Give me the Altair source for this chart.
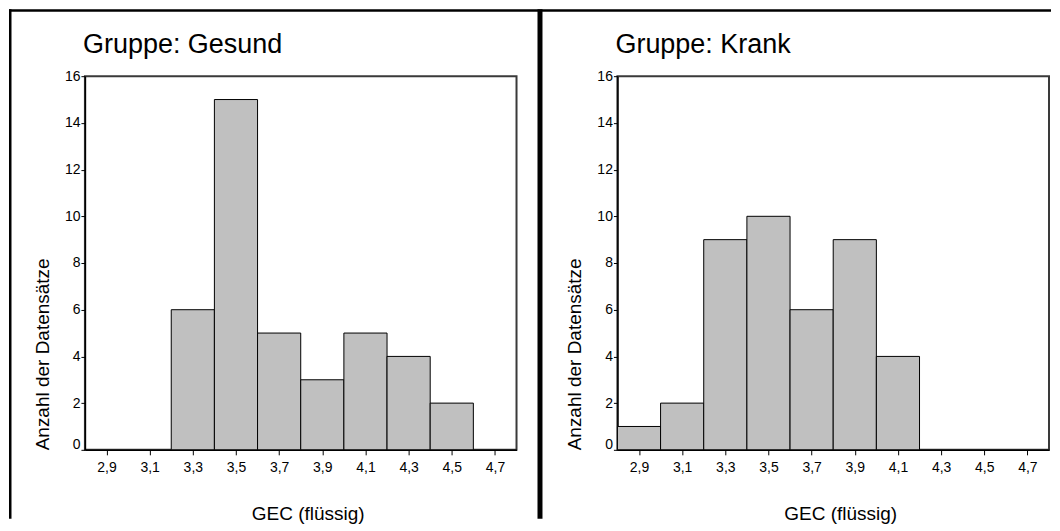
import altair as alt
import pandas as pd

# ---- data ----
bin_start = [2.8, 3.0, 3.2, 3.4, 3.6, 3.8, 4.0, 4.2, 4.4, 4.6]
bin_end = [3.0, 3.2, 3.4, 3.6, 3.8, 4.0, 4.2, 4.4, 4.6, 4.8]
gesund_counts = [0, 0, 6, 15, 5, 3, 5, 4, 2, 0]
krank_counts = [1, 2, 9, 10, 6, 9, 4, 0, 0, 0]
x_ticks = [2.9, 3.1, 3.3, 3.5, 3.7, 3.9, 4.1, 4.3, 4.5, 4.7]
y_ticks = [0, 2, 4, 6, 8, 10, 12, 14, 16]
groups = ["Gesund", "Krank"]

FONT = "Liberation Sans"
W, H = 432, 374


def panel(counts, group, left_border):
    df = pd.DataFrame({"start": bin_start, "end": bin_end, "count": counts})
    x = alt.X(
        "start:Q",
        scale=alt.Scale(domain=[2.8, 4.8], nice=False, zero=False),
        axis=alt.Axis(
            values=x_ticks,
            labelExpr="replace(format(datum.value, '.1f'), '.', ',')",
            title="GEC (flüssig)",
            titleX=W / 2 + 7,
            tickSize=5,
            labelPadding=6,
            titlePadding=30,
            labelFontSize=14,
            titleFontSize=19,
        ),
    )
    y = alt.Y(
        "count:Q",
        scale=alt.Scale(domain=[0, 16], nice=False),
        axis=alt.Axis(
            values=y_ticks,
            title="Anzahl der Datensätze",
            titleAnchor="start",
            tickSize=4,
            labelPadding=1,
            titlePadding=12,
            labelFontSize=14,
            titleFontSize=19,
            labelOffset={"condition": {"test": "datum.value == 0", "value": -5}, "value": 0},
        ),
    )
    bars = (
        alt.Chart(df)
        .transform_filter("datum.count > 0")
        .mark_rect(color="#c0c0c0", stroke="black", strokeWidth=1)
        .encode(x=x, x2="end:Q", y=y, y2=alt.datum(0))
    )
    one = pd.DataFrame({"a": [0]})
    title = alt.Chart(one).mark_text(
        font=FONT, fontSize=27, align="left", baseline="alphabetic", color="black"
    ).encode(x=alt.value(-2), y=alt.value(-23), text=alt.value(f"Gruppe: {group}"))
    layers = [title]
    if left_border:
        vline = alt.Chart(one).mark_rect(color="black", strokeWidth=0).encode(
            x=alt.value(-76), x2=alt.value(-73.5), y=alt.value(-67), y2=alt.value(443)
        )
        hline = alt.Chart(one).mark_rect(color="black", strokeWidth=0).encode(
            x=alt.value(-76), x2=alt.value(967), y=alt.value(-67), y2=alt.value(-64.5)
        )
        layers += [vline, hline]
    else:
        div = alt.Chart(one).mark_rect(color="black", strokeWidth=0).encode(
            x=alt.value(-80), x2=alt.value(-75), y=alt.value(-67), y2=alt.value(443)
        )
        layers += [div]
    return alt.layer(bars, *layers).properties(width=W, height=H)


chart = (
    alt.hconcat(
        panel(gesund_counts, groups[0], True),
        panel(krank_counts, groups[1], False),
        spacing=101,
        bounds="flush",
    )
    .properties(padding=0, background="white")
    .configure_view(stroke="#3a3a3a", strokeWidth=2)
    .configure_axis(
        grid=False,
        domainColor="black",
        tickColor="black",
        labelColor="black",
        titleColor="black",
        labelFont=FONT,
        titleFont=FONT,
        titleFontWeight="normal",
        domainWidth=1.5,
    )
)

chart.save("out.html", embed_options={"renderer": "svg", "actions": False})
